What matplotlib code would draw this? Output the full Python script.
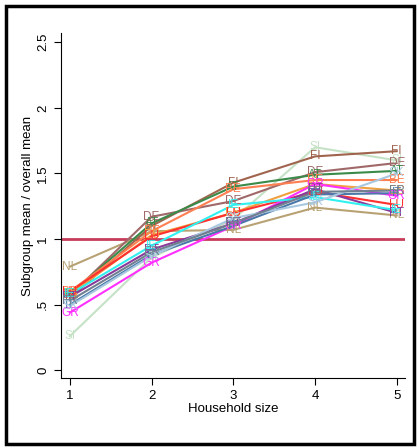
import matplotlib
matplotlib.use('Agg')
import matplotlib.pyplot as plt
import numpy as np
from matplotlib.patches import Rectangle

plt.rcParams['font.family'] = ['Liberation Sans', 'DejaVu Sans']
dpi = 100

# Household size categories
sizes = [1, 2, 3, 4, 5]

# Subgroup mean / overall mean per country
countries = ['SI', 'NL', 'FI', 'DE', 'AT', 'BE', 'ES', 'LU', 'GR',
             'PT', 'IE', 'IT', 'SK', 'FR']
values = {
    'SI': [0.26, 0.86, 1.15, 1.70, 1.60],
    'NL': [0.79, 1.06, 1.07, 1.24, 1.18],
    'FI': [0.55, 1.10, 1.43, 1.63, 1.67],
    'DE': [0.57, 1.17, 1.29, 1.51, 1.58],
    'AT': [0.58, 1.12, 1.40, 1.49, 1.52],
    'BE': [0.60, 1.06, 1.38, 1.45, 1.45],
    'ES': [0.58, 1.03, 1.20, 1.42, 1.37],
    'LU': [0.60, 1.02, 1.20, 1.36, 1.26],
    'GR': [0.44, 0.82, 1.10, 1.42, 1.33],
    'PT': [0.56, 0.92, 1.12, 1.38, 1.20],
    'IE': [0.58, 0.95, 1.26, 1.32, 1.22],
    'IT': [0.50, 0.88, 1.10, 1.34, 1.35],
    'SK': [0.49, 0.87, 1.16, 1.28, 1.50],
    'FR': [0.53, 0.90, 1.12, 1.36, 1.37],
}
colors = {
    'SI': '#c6e2c6', 'NL': '#b8a274', 'FI': '#a0644e', 'DE': '#a06868',
    'AT': '#3a8a4a', 'BE': '#ff7f50', 'ES': '#f0a040', 'LU': '#ff3030',
    'GR': '#ff30ff', 'PT': '#8a3a9a', 'IE': '#30f0f0', 'IT': '#4a78a8',
    'SK': '#a8c8e0', 'FR': '#708090',
}

fig = plt.figure(figsize=(417 / dpi, 447 / dpi), dpi=dpi)
ax = fig.add_axes([0.146, 0.154, 0.825, 0.772])

for c in countries:
    ax.plot(sizes, values[c], color=colors[c], lw=1.5, zorder=2)
    for x, v in zip(sizes, values[c]):
        ax.text(x, v, c, color=colors[c], fontsize=8.5, ha='center',
                va='center', zorder=3)

ax.axhline(1, color='#c83c5a', lw=2, zorder=1)

ax.set_xlim(0.89, 5.10)
ax.set_ylim(-0.06, 2.57)
ax.set_xticks(sizes)
ax.set_yticks([0, 0.5, 1, 1.5, 2, 2.5])
ax.set_yticklabels(['0', '.5', '1', '1.5', '2', '2.5'], rotation=90,
                   va='center')
ax.tick_params(labelsize=9.5, length=5, width=0.8)
ax.set_xlabel('Household size', fontsize=9.5, labelpad=1)
ax.set_ylabel('Subgroup mean / overall mean', fontsize=9.5, labelpad=2)
for s in ['top', 'right']:
    ax.spines[s].set_visible(False)

# outer frame
fig.patches.append(Rectangle((6 / 417, 3 / 447), 408 / 417, 438 / 447,
                             transform=fig.transFigure, fill=False,
                             lw=2.5, ec='black'))

fig.savefig('out.png', dpi=dpi)
